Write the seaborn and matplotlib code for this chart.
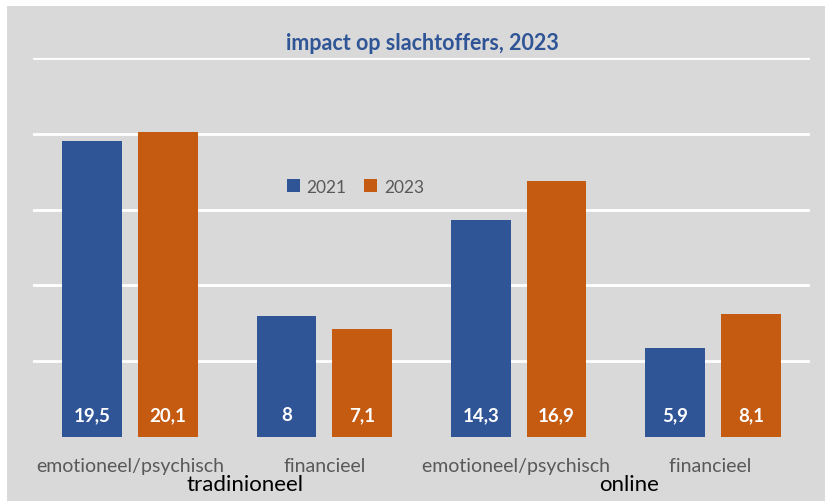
import matplotlib
matplotlib.use('Agg')
import matplotlib.pyplot as plt
import seaborn as sns
import pandas as pd
from matplotlib.patches import Rectangle

categorieen = ['emotioneel/psychisch', 'financieel', 'emotioneel/psychisch ', 'financieel ']
groepen = ['tradinioneel', 'online']
jaren = ['2021', '2023']
waarden_2021 = [19.5, 8, 14.3, 5.9]
waarden_2023 = [20.1, 7.1, 16.9, 8.1]

df = pd.DataFrame({
    'categorie': categorieen * 2,
    'jaar': [jaren[0]] * 4 + [jaren[1]] * 4,
    'waarde': waarden_2021 + waarden_2023,
})

sns.set_style('white')
plt.rcParams['font.family'] = ['Lato', 'DejaVu Sans']

fig = plt.figure(figsize=(8.25, 5.02), dpi=100)
fig.patch.set_facecolor('white')
fig.patches.append(Rectangle((7 / 825, 0), 1, 1 - 7 / 502, transform=fig.transFigure,
                             facecolor='#d9d9d9', edgecolor='none', zorder=-10))

ax = fig.add_axes([33 / 825, 1 - 438 / 502, 777 / 825, 379 / 502])
ax.set_facecolor('none')

kleuren = {'2021': '#2f5597', '2023': '#c55a11'}
sns.barplot(data=df, x='categorie', y='waarde', hue='jaar', palette=kleuren,
            width=0.78, gap=0.21, ax=ax, zorder=3, saturation=1, linewidth=0)

ax.set_ylim(0, 25)
ax.set_xlim(-0.5, 3.5)
ax.set_yticks([5, 10, 15, 20, 25])
ax.yaxis.grid(True, color='white', linewidth=2, zorder=0)
ax.set_axisbelow(True)
ax.tick_params(axis='y', left=False, labelleft=False)
ax.tick_params(axis='x', bottom=False, labelsize=14, labelcolor='#595959', pad=11)
ax.set_xlabel('')
ax.set_ylabel('')
for s in ax.spines.values():
    s.set_visible(False)

for cont in ax.containers:
    for rect, v in zip(cont, cont.datavalues):
        ax.text(rect.get_x() + rect.get_width() / 2, 1.5, f'{v:g}'.replace('.', ','),
                ha='center', va='center', color='white', fontsize=13.5,
                fontweight='bold', zorder=5)

ax.text(0.59, -3.1, groepen[0], ha='center', va='center', fontsize=16, color='black')
ax.text(2.57, -3.1, groepen[1], ha='center', va='center', fontsize=16, color='black')

leg = ax.legend(loc='center', bbox_to_anchor=(0.415, 0.66), ncol=2, frameon=False,
                fontsize=12.5, handlelength=0.75, handleheight=0.75, handletextpad=0.4,
                columnspacing=1.0)
for t in leg.get_texts():
    t.set_color('#595959')

fig.text(422 / 825, 1 - 43 / 502, 'impact op slachtoffers, 2023', ha='center', va='center',
         fontsize=15.5, fontweight='bold', color='#2f5597')

fig.savefig('out.png', dpi=100)
